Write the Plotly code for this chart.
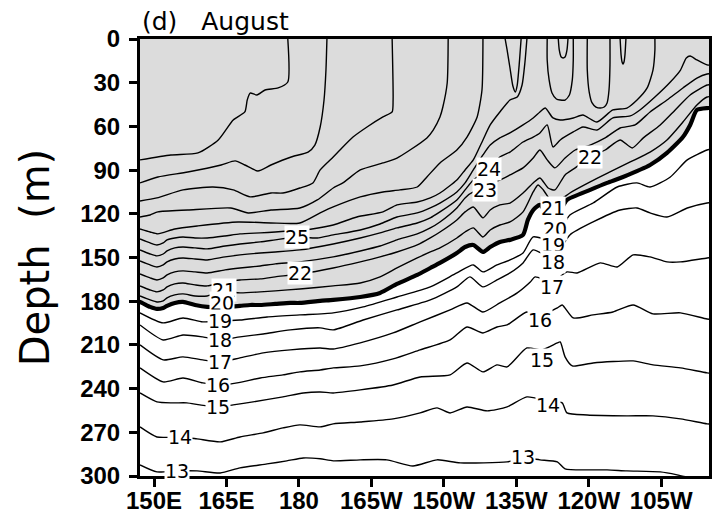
import plotly.graph_objects as go

# ---------------- isotherm positions (longitude degE, depth m) ----------------
lon_13 = [147.1,150.6,154.8,158.9,163.7,167.8,173.4,177.5,180.9,184.4,187.1,192.7,198.2,203.6,208.6,213.4,223.1,226.4,229.9,233.5,235.1,239.7,243.8,247.9,254.8,258.3,261.0]
dep_13 = [292.4,297.2,296.5,296.5,297.9,294.4,291.7,289.6,287.6,288.2,289.6,288.9,288.9,293.1,288.9,291.0,290.3,287.6,288.9,290.3,295.1,295.8,295.8,296.5,297.2,299.2,301.3]

lon_14 = [147.1,150.6,155.4,158.9,163.7,167.8,172.6,176.7,180.2,184.4,187.1,192.7,199.5,205.1,208.6,211.3,214.8,219.0,223.1,227.2,231.6,234.5,235.5,239.7,247.9,253.3,259.0,264.5,265.5]
dep_14 = [266.3,273.2,273.2,274.5,276.6,273.2,270.4,267.0,264.9,266.3,264.2,262.9,260.8,256.7,253.2,256.7,252.6,255.3,252.6,245.7,248.4,249.8,256.7,258.1,258.7,258.7,260.8,264.2,264.5]

lon_15 = [147.1,150.6,153.9,156.8,159.5,163.3,166.4,170.5,176.7,180.9,184.4,187.1,192.7,199.5,205.1,211.3,214.8,218.1,221.0,223.1,227.2,230.3,233.5,234.1,235.1,236.6,240.9,249.2,253.3,259.0,264.5,265.5]
dep_15 = [243.0,249.1,249.8,249.8,251.2,252.6,251.2,249.1,245.7,243.0,242.3,243.0,240.9,237.5,232.0,230.6,222.4,228.5,223.7,225.1,212.1,213.4,208.6,208.0,218.2,224.4,222.4,221.0,223.7,225.8,229.2,229.5]

lon_16 = [147.1,151.9,156.0,160.1,163.3,167.2,172.0,176.7,180.2,184.4,187.1,192.7,199.5,205.1,211.3,214.8,218.1,221.0,223.1,227.2,229.9,233.5,234.5,236.8,240.9,245.0,249.2,253.3,259.0,264.5,265.5]
dep_16 = [225.8,235.4,232.7,236.1,237.5,236.1,232.7,230.6,228.5,227.2,225.8,224.4,219.6,213.4,206.6,197.7,201.8,197.7,196.3,187.4,190.1,184.6,182.6,191.5,189.4,187.4,182.6,188.7,188.0,192.2,192.5]

lon_17 = [147.1,151.9,156.0,160.1,163.7,167.8,172.6,178.2,184.4,187.1,192.7,199.5,205.1,211.3,214.8,218.1,221.6,225.2,227.9,228.9,232.4,235.5,237.6,242.4,245.9,249.2,252.7,256.2,259.0,264.5,265.5]
dep_17 = [210.0,220.3,218.2,220.3,221.7,218.9,215.5,213.4,212.1,212.8,208.6,201.8,194.2,186.0,181.2,187.4,181.2,174.3,166.8,163.3,166.8,159.9,160.6,153.7,156.5,148.2,149.6,153.0,153.0,150.3,150.0]

lon_18 = [147.1,151.9,156.0,160.1,163.7,167.8,172.6,178.2,184.4,187.1,193.3,200.3,207.2,212.7,215.4,218.1,221.0,223.7,226.4,228.5,232.6,236.1,240.9,246.5,250.0,252.7,256.2,260.4,264.5,265.5]
dep_18 = [196.3,206.6,203.2,204.5,206.6,204.5,202.5,199.7,198.3,199.7,192.9,186.0,179.1,170.2,163.3,170.2,165.4,160.6,153.7,144.8,150.3,134.5,125.6,117.4,116.0,119.4,122.2,116.0,112.6,112.3]

lon_19 = [147.1,151.9,156.0,160.1,163.7,167.8,173.4,180.2,187.1,193.3,200.3,207.2,212.7,216.1,218.1,221.0,223.7,226.4,228.5,232.6,236.1,240.9,245.9,250.0,252.7,256.9,260.4,264.5,265.5]
dep_19 = [188.0,194.9,191.5,194.2,193.5,192.9,190.8,189.4,188.0,183.9,177.1,170.2,160.6,155.1,159.9,155.1,151.7,146.9,135.9,137.9,120.8,112.6,101.6,98.8,101.6,94.7,83.0,76.2,75.5]

lon_20 = [146.5,147.1,149.2,150.6,151.9,152.7,154.3,156.0,158.5,161.0,164.7,167.8,169.9,172.0,175.1,178.2,180.2,184.4,187.1,192.7,196.8,200.3,204.5,207.2,209.2,212.7,214.4,216.1,218.1,219.6,221.6,223.7,226.4,227.4,228.5,229.9,231.6,233.0,234.1,235.5,240.3,243.8,247.1,252.7,256.2,259.5,261.0,262.4,264.5,265.5]
dep_20 = [180.2,180.5,183.9,185.3,184.6,183.2,181.2,180.5,182.6,183.9,183.9,183.2,182.6,182.6,181.9,181.2,181.2,179.8,179.1,177.1,174.3,168.1,162.0,157.2,153.7,146.9,142.8,141.4,146.2,142.8,139.3,137.9,134.5,124.2,117.4,113.9,120.8,118.7,117.4,110.5,103.6,98.8,94.7,86.5,78.2,67.3,59.0,48.7,47.4,47.4]

lon_21 = [147.1,149.2,150.6,151.9,152.7,154.3,156.0,158.5,161.0,164.5,167.8,172.0,175.1,180.2,187.1,192.7,196.8,200.3,204.5,207.2,209.2,212.7,214.4,216.1,218.1,219.6,221.6,223.7,226.4,228.5,229.5,230.6,232.6,234.1,236.1,240.3,244.4,248.6,252.7,256.2,259.5,262.4,264.5,265.5]
dep_21 = [176.4,179.1,180.5,179.8,177.7,175.7,175.0,176.4,176.4,172.9,174.3,173.6,172.9,171.6,169.5,167.5,163.3,157.2,150.3,146.2,143.4,136.6,132.5,129.7,135.9,131.1,127.7,125.6,118.7,105.0,100.2,103.6,112.6,110.5,105.7,98.1,91.3,84.4,77.6,69.3,57.0,45.3,39.8,39.5]

lon_22 = [147.1,149.2,150.6,151.9,152.7,154.3,156.0,158.5,161.0,164.7,167.8,172.0,175.1,180.2,187.1,192.7,196.8,200.3,204.5,207.2,209.2,212.7,214.4,216.1,218.1,219.6,221.6,223.7,226.4,228.5,229.9,231.6,233.0,235.1,237.2,240.3,243.4,246.5,249.0,251.3,254.8,257.9,261.0,264.5,265.5]
dep_22 = [169.5,172.3,173.6,172.3,170.2,168.1,167.5,168.8,169.5,166.8,165.4,164.7,163.3,161.3,157.2,153.0,149.6,146.2,141.4,136.6,132.5,124.2,118.7,115.3,122.8,117.4,113.9,112.6,105.7,98.8,95.4,102.3,103.6,93.3,88.5,81.0,76.2,69.3,74.8,67.9,59.0,48.7,38.4,31.6,31.3]

lon_23 = [147.1,149.2,150.6,151.9,152.7,154.3,156.0,158.5,161.0,164.7,167.8,172.0,175.1,180.2,187.1,192.7,196.8,200.3,204.5,207.2,209.2,212.7,214.4,216.1,218.5,219.6,221.6,223.7,226.4,228.5,229.9,231.4,233.0,235.1,237.2,240.3,243.4,246.5,249.6,252.7,256.2,259.5,262.4,264.5,265.5]
dep_23 = [161.3,164.0,165.4,164.0,162.0,159.9,159.2,159.9,160.6,158.5,157.2,155.8,154.4,153.0,149.6,145.5,142.1,137.9,133.8,129.7,125.6,116.0,109.1,105.0,103.6,98.8,96.8,93.3,88.5,81.7,76.2,83.0,88.5,81.7,76.2,72.8,67.9,61.1,59.0,50.1,41.9,33.6,26.8,24.0,23.8]

lon_24 = [147.1,149.2,150.6,151.9,152.7,154.3,156.0,158.5,161.0,164.7,167.8,172.0,175.1,180.2,187.1,192.7,196.8,200.3,204.5,207.2,209.2,212.7,214.4,216.1,219.4,221.6,223.7,226.4,228.5,229.9,231.4,232.6,234.1,236.8,238.8,241.7,245.0,248.6,250.6,253.7,256.9,259.0,260.2,261.0,262.4,264.5,265.5]
dep_24 = [152.4,155.1,156.5,155.1,153.0,151.0,150.3,151.0,151.7,149.6,148.2,146.9,146.2,144.8,140.7,136.6,133.1,129.7,126.3,122.8,118.7,110.5,103.6,96.8,89.2,81.0,77.6,70.7,67.3,64.5,59.0,74.1,69.3,63.8,60.4,62.5,54.2,52.8,48.7,39.8,29.5,21.3,13.0,11.7,14.4,17.8,18.0]

lon_25 = [147.1,149.2,150.6,151.9,152.7,154.3,156.0,158.5,161.0,164.7,167.8,172.0,175.1,179.6,183.8,187.1,192.7,196.8,200.3,204.5,207.2,209.2,212.7,214.4,216.1,218.1,219.6,221.6,223.7,226.4,228.5,229.9,231.0,232.6,234.1,236.8,238.8,241.7,245.0,247.9,250.0,252.1,253.3,253.7,253.7]
dep_25 = [144.8,147.6,148.9,147.6,145.5,143.4,142.8,143.4,144.1,142.1,140.7,139.3,137.9,135.9,136.6,134.5,131.1,127.0,122.2,119.4,115.9,112.6,105.0,98.8,89.9,79.6,72.8,67.9,64.5,59.0,54.2,50.1,47.4,54.2,55.6,54.2,52.2,57.0,48.7,47.4,41.9,33.6,21.3,7.5,0.0]

lon_26 = [147.1,149.2,150.6,151.9,152.7,154.3,156.0,158.5,161.0,164.7,167.8,172.0,175.1,180.2,182.7,187.1,192.0,197.4,200.3,204.5,207.2,209.2,212.7,214.4,216.1,218.1,219.6,221.6,223.7,225.2,226.2,226.8,227.2]
dep_26 = [137.3,140.0,141.4,140.0,137.9,136.6,135.9,136.6,136.6,135.2,133.8,133.1,132.5,131.1,130.4,127.7,122.2,118.7,113.9,111.9,109.1,105.7,96.8,89.9,83.0,69.3,59.0,50.1,41.9,39.8,31.6,15.8,0.0]

lon_27 = [147.1,149.2,150.8,154.3,159.1,167.4,174.2,180.2,184.4,187.1,192.7,197.4,200.9,204.5,206.5,209.2,212.7,214.8,216.9,217.9,218.1]
dep_27 = [130.4,132.5,133.8,130.4,128.3,125.6,126.3,126.3,119.4,115.3,108.4,105.0,103.6,101.6,94.7,85.1,76.2,67.3,53.5,35.0,0.0]

lon_28 = [147.1,149.2,150.8,157.0,165.9,169.5,174.2,180.2,183.8,187.1,189.1,192.7,197.4,200.3,203.0,206.5,207.8,209.2,209.8,210.7,210.9]
dep_28 = [122.2,120.8,118.7,117.4,116.0,119.4,117.4,116.0,110.5,102.3,98.8,89.9,85.1,81.7,76.2,67.9,62.5,53.5,46.7,30.2,0.0]

lon_29 = [147.1,150.6,156.0,162.2,166.4,169.9,174.2,176.7,180.2,182.9,184.4,187.1,188.5,191.2,194.1,197.4,199.3,199.5,199.3]
dep_29 = [111.2,109.1,103.6,101.6,103.6,108.4,105.7,105.7,102.3,98.8,89.9,81.0,76.2,67.3,60.4,53.5,50.1,41.9,0.0]

lon_30 = [147.1,150.8,157.0,163.9,166.8,168.8,171.5,174.2,178.4,181.9,183.3,184.4,185.2,185.6,185.8]
dep_30 = [98.8,94.7,91.3,86.5,83.7,86.5,90.6,86.5,81.0,77.6,72.8,60.4,41.9,21.3,0.0]

lon_31 = [147.1,153.5,159.1,163.3,166.4,168.8,169.3,169.9,171.3,173.0,175.7,177.7,177.7]
dep_31 = [83.0,79.6,78.2,69.3,55.6,50.1,41.9,37.1,38.4,35.0,33.6,29.5,0.0]

# surface tongues of cooler water
lon_tongue_a = [222.7,223.1,223.7,224.3,224.8,225.2,225.6,225.8,226.0]
dep_tongue_a = [0.0,7.5,19.9,32.3,36.4,31.6,17.8,8.9,0.0]
lon_tongue_b = [231.4,231.4,231.8,232.4,233.3,234.1,235.1,236.0,236.6,236.8,236.8]
dep_tongue_b = [0.0,14.4,28.1,37.1,41.2,41.9,41.9,38.4,28.1,14.4,0.0]
lon_tongue_c = [233.7,233.9,234.3,234.7,235.1,235.5,235.7]
dep_tongue_c = [0.0,7.5,12.4,13.0,12.4,7.5,0.0]
lon_tongue_d = [239.7,239.7,240.1,240.7,241.5,242.4,243.2,243.8,244.2,244.4,244.4]
dep_tongue_d = [0.0,21.3,36.4,43.9,46.7,47.4,46.7,43.9,35.0,17.8,0.0]
lon_tongue_e = [246.5,246.7,246.9,247.1,247.3,247.5,247.7]
dep_tongue_e = [0.0,11.0,15.8,17.2,15.8,11.0,0.0]

# contour labels
label_text = ["25","24","23","22","22","21","21","20","20","19","19","18","18","17","17","16","16","15","15","14","14","13","13"]
label_lon  = [179.6,219.4,218.5,180.2,240.3,164.5,232.6,164.1,233.0,163.7,232.6,163.7,232.6,163.7,232.4,163.3,229.9,163.3,230.3,155.4,231.6,154.8,226.4]
label_dep  = [135.9,89.2,103.6,160.6,81.0,172.3,116.0,181.2,130.4,193.5,141.4,206.6,153.0,221.7,170.2,237.5,192.9,252.6,220.3,273.2,251.2,296.5,286.9]

x_ticks = [150,165,180,195,210,225,240,255]
x_tick_text = ["150E","165E","180","165W","150W","135W","120W","105W"]
y_ticks = [0,30,60,90,120,150,180,210,240,270,300]

thin_lines = [
    (lon_13, dep_13), (lon_14, dep_14), (lon_15, dep_15), (lon_16, dep_16),
    (lon_17, dep_17), (lon_18, dep_18), (lon_19, dep_19), (lon_21, dep_21),
    (lon_22, dep_22), (lon_23, dep_23), (lon_24, dep_24), (lon_25, dep_25),
    (lon_26, dep_26), (lon_27, dep_27), (lon_28, dep_28), (lon_29, dep_29),
    (lon_30, dep_30), (lon_31, dep_31),
    (lon_tongue_a, dep_tongue_a), (lon_tongue_b, dep_tongue_b), (lon_tongue_c, dep_tongue_c),
    (lon_tongue_d, dep_tongue_d), (lon_tongue_e, dep_tongue_e),
]

fig = go.Figure()

# shading of water warmer than 20 C (above the 20 C isotherm)
fill_x = lon_20 + [265.5, 146.5]
fill_y = dep_20 + [-5, -5]
fig.add_trace(go.Scatter(x=fill_x, y=fill_y, mode="lines", fill="toself",
                         fillcolor="#dcdcdc", line=dict(width=0), hoverinfo="skip"))

for lx, ly in thin_lines:
    fig.add_trace(go.Scatter(x=lx, y=ly, mode="lines",
                             line=dict(color="black", width=1.4, shape="spline", smoothing=0.6),
                             hoverinfo="skip"))

fig.add_trace(go.Scatter(x=lon_20, y=dep_20, mode="lines",
                         line=dict(color="black", width=4.2, shape="spline", smoothing=0.6),
                         hoverinfo="skip"))

for t, lx, ly in zip(label_text, label_lon, label_dep):
    fig.add_annotation(x=lx, y=ly, text=t, showarrow=False, bgcolor="white",
                       borderpad=0, font=dict(family="DejaVu Sans", size=19, color="black"))

fig.add_annotation(xref="paper", yref="paper", x=0.0, y=1.0, xanchor="left", yanchor="bottom",
                   yshift=1, text="(d)\u00a0\u00a0\u00a0August", showarrow=False,
                   font=dict(family="DejaVu Sans", size=25, color="black"))
fig.add_annotation(xref="paper", yref="paper", x=-0.185, y=0.5, xanchor="center", yanchor="middle",
                   text="Depth\u00a0\u00a0(m)", textangle=-90, showarrow=False,
                   font=dict(family="DejaVu Sans", size=40, color="black"))

axis_common = dict(showline=True, linewidth=3, linecolor="black", mirror=True,
                   ticks="outside", ticklen=8, tickwidth=2.5, tickcolor="black",
                   showgrid=False, zeroline=False, automargin=False,
                   tickfont=dict(family="Liberation Sans", size=24, color="black", weight="bold"))

fig.update_xaxes(range=[147.1, 264.9], tickvals=x_ticks, ticktext=x_tick_text,
                 ticklabelstandoff=-7, **axis_common)
fig.update_yaxes(range=[300, 0], tickvals=y_ticks, ticklabelstandoff=4, **axis_common)

fig.update_layout(width=723, height=518, margin=dict(l=140, r=14, t=39, b=42),
                  plot_bgcolor="white", paper_bgcolor="white", showlegend=False)

fig.write_html("out.html")
